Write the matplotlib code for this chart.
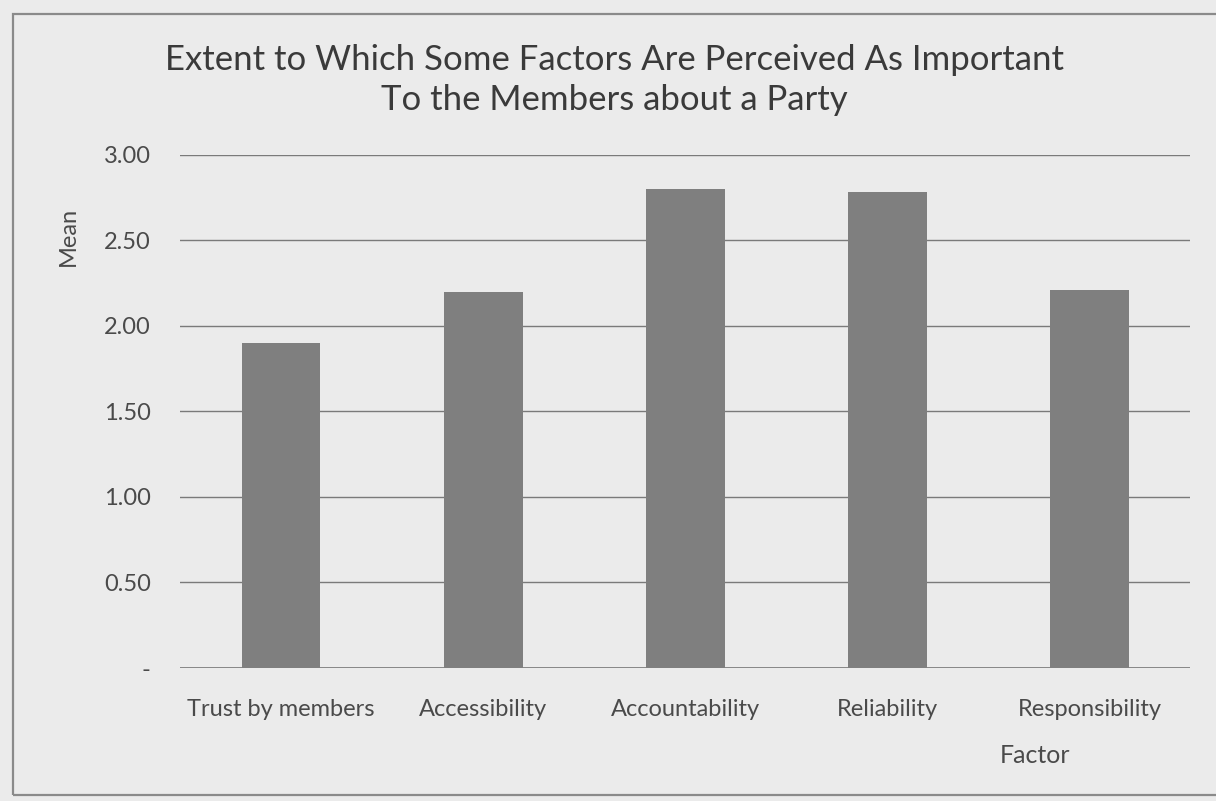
import matplotlib.pyplot as plt
from matplotlib.patches import Rectangle
from matplotlib.ticker import FixedLocator, FuncFormatter

factors = ['Trust by members', 'Accessibility', 'Accountability', 'Reliability', 'Responsibility']
means = [1.90, 2.20, 2.80, 2.78, 2.21]
y_ticks = [0.0, 0.5, 1.0, 1.5, 2.0, 2.5, 3.0]

plt.rcParams['font.family'] = ['Lato', 'DejaVu Sans']

paper = '#ebebeb'
fig = plt.figure(figsize=(12.16, 8.01), dpi=100, facecolor=paper)
ax = fig.add_axes([0.148, 0.166, 0.831, 0.641])
ax.set_facecolor(paper)

# outer chart frame
fig.patches.append(Rectangle((13 / 1216, 6 / 801), 1.2, 1 - 20 / 801,
                             transform=fig.transFigure, fill=False,
                             edgecolor='#8a8a8a', linewidth=1.6))

x = range(len(factors))
ax.bar(x, means, width=0.39, color='#7f7f7f', zorder=3)

ax.set_xlim(-0.5, len(factors) - 0.5)
ax.set_ylim(0, 3.0)
ax.yaxis.set_major_locator(FixedLocator(y_ticks))
ax.yaxis.set_major_formatter(FuncFormatter(lambda v, p: '-' if v == 0 else f'{v:.2f}'))
ax.grid(axis='y', color='#7a7a7a', linewidth=1.0, zorder=1)
ax.axhline(0, color='#7a7a7a', linewidth=1.2, zorder=2)

for s in ax.spines.values():
    s.set_visible(False)
ax.tick_params(axis='both', length=0, colors='#4a4a4a')
ax.tick_params(axis='y', labelsize=17, pad=21)
ax.tick_params(axis='x', labelsize=17, pad=22)
ax.set_xticks(list(x))
ax.set_xticklabels(factors)

fig.text(0.505, 0.925, 'Extent to Which Some Factors Are Perceived As Important',
         ha='center', va='center', fontsize=25, color='#3a3a3a')
fig.text(0.505, 0.875, 'To the Members about a Party',
         ha='center', va='center', fontsize=25, color='#3a3a3a')
fig.text(0.056, 0.705, 'Mean', rotation=90, ha='center', va='center',
         fontsize=17, color='#4a4a4a')
fig.text(0.851, 0.057, 'Factor', ha='center', va='center',
         fontsize=18, color='#4a4a4a')

fig.savefig('out.png', dpi=100, facecolor=paper)
